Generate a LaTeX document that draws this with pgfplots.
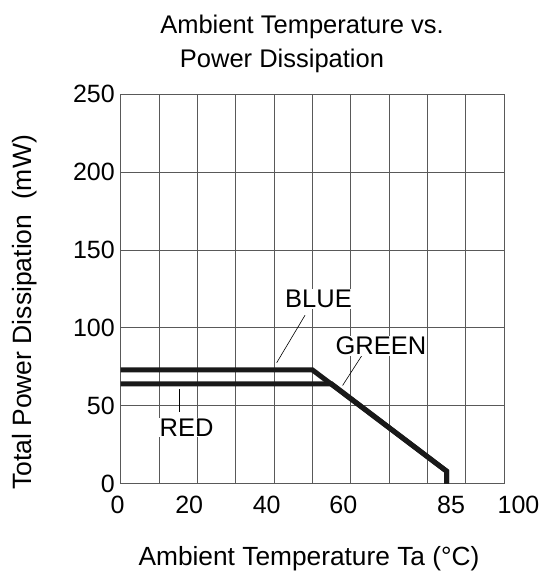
\documentclass[border=0pt]{standalone}
\usepackage{fontspec}
\setmainfont{Liberation Sans}
\usepackage{pgfplots}
\pgfplotsset{compat=1.18}
\definecolor{gridc}{gray}{0.35}
\definecolor{linec}{gray}{0.1}
\begin{document}
\begin{tikzpicture}
\path[use as bounding box] (-120.7pt,-88.4pt) rectangle (423.3pt,483.6pt);
\begin{axis}[
  at={(0pt,0pt)}, anchor=south west,
  scale only axis, width=383.3pt, height=389.5pt,
  xmin=0, xmax=100, ymin=0, ymax=250,
  xtick={0,20,40,60,85,100},
  xticklabels={\hspace*{-6.4pt}0,\hspace*{-16.4pt}20,\hspace*{-14.6pt}40,\hspace*{-14.8pt}60,\hspace*{9pt}85,\hspace*{29pt}100},
  minor xtick={0,10,...,100},
  ytick={0,50,...,250},
  xmajorgrids=false, xminorgrids=true, ymajorgrids=true,
  minor grid style={gridc, line width=0.75pt},
  major grid style={gridc, line width=0.75pt},
  axis line style={gridc, line width=0.75pt},
  major tick length=0pt, minor tick length=0pt,
  tick label style={font=\fontsize{25}{30}\selectfont},
  /pgf/number format/assume math mode=true,
  xticklabel style={anchor=north, inner sep=0pt, yshift=-12.4pt},
  yticklabel style={anchor=east, inner sep=0pt, xshift=-5.7pt},
]
% leader lines
\draw[black, line width=0.6pt] (axis cs:48.1,108.1) -- (axis cs:40.7,77.6);
\draw[black, line width=0.6pt] (axis cs:63.1,82.9) -- (axis cs:57.9,63.0);
\draw[black, line width=0.6pt] (axis cs:15.3,60.4) -- (axis cs:15.3,45.9);
% labels
\node[fill=white, inner sep=1pt, anchor=base, font=\fontsize{25.5}{30}\selectfont] at (axis cs:51.6,113.0) {BLUE};
\node[fill=white, inner sep=1pt, anchor=base, font=\fontsize{25.5}{30}\selectfont] at (axis cs:67.9,82.9) {GREEN};
\node[fill=white, inner sep=1pt, anchor=base, font=\fontsize{25.5}{30}\selectfont] at (axis cs:17.2,30.3) {RED};
% BLUE
\addplot[linec, line width=5pt, line join=miter] coordinates {(0,73) (50,73) (85,8) (85,0)};
% GREEN / RED
\addplot[linec, line width=5pt, line join=miter] coordinates {(0,64) (55,64) (85,8) (85,0)};
\end{axis}
\node[anchor=base, font=\fontsize{25.5}{30}\selectfont] at (181.3pt,449.6pt) {Ambient Temperature vs.};
\node[anchor=base, font=\fontsize{25.5}{30}\selectfont] at (161.3pt,415.6pt) {Power Dissipation};
\node[anchor=base, font=\fontsize{26.3}{30}\selectfont] at (188.3pt,-81.4pt) {Ambient Temperature Ta (°C)};
\node[rotate=90, anchor=base, font=\fontsize{26.5}{30}\selectfont] at (-89pt,171.1pt) {Total Power Dissipation\ \ (mW)};
\end{tikzpicture}
\end{document}
